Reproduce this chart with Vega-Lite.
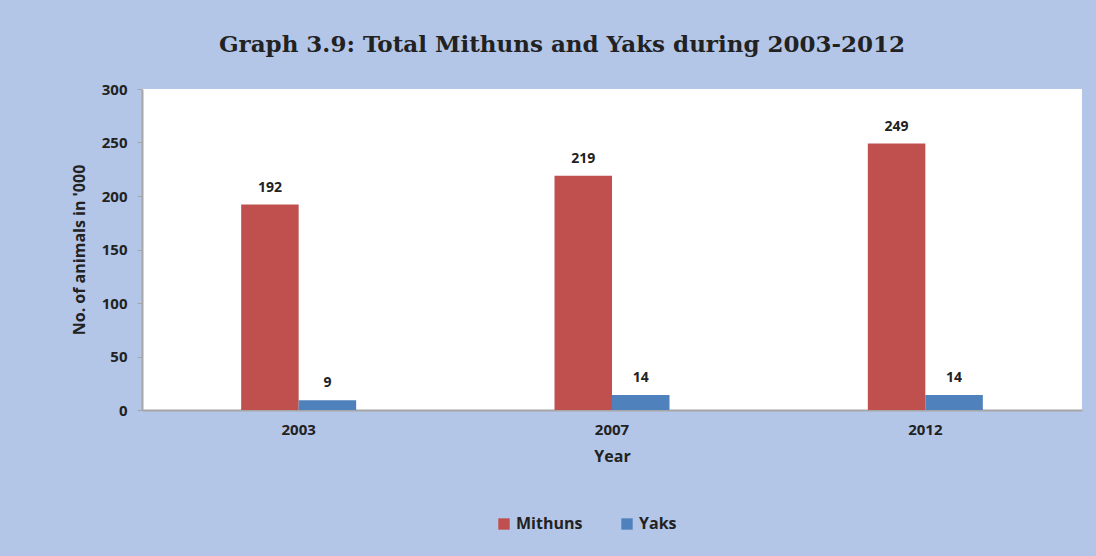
{
  "$schema": "https://vega.github.io/schema/vega-lite/v6.json",
  "autosize": "none",
  "width": 940,
  "height": 321,
  "padding": {"left": 142, "top": 89, "right": 14, "bottom": 146},
  "background": "#b4c6e8",
  "config": {
    "view": {"fill": "white", "stroke": null},
    "font": "Open Sans"
  },
  "title": {
    "text": "Graph 3.9: Total Mithuns and Yaks during 2003-2012",
    "font": "DejaVu Serif",
    "fontSize": 23,
    "fontWeight": "bold",
    "color": "#222222",
    "anchor": "middle",
    "dx": -50,
    "offset": 25
  },
  "data": {
    "values": [
      {"year": "2003", "animal": "Mithuns", "value": 192},
      {"year": "2003", "animal": "Yaks", "value": 9},
      {"year": "2007", "animal": "Mithuns", "value": 219},
      {"year": "2007", "animal": "Yaks", "value": 14},
      {"year": "2012", "animal": "Mithuns", "value": 249},
      {"year": "2012", "animal": "Yaks", "value": 14}
    ]
  },
  "encoding": {
    "x": {
      "field": "year",
      "type": "nominal",
      "scale": {"paddingInner": 0.633, "paddingOuter": 0.3165},
      "axis": {
        "title": "Year",
        "titleFontSize": 16,
        "titleFontWeight": "bold",
        "titleColor": "#222222",
        "titlePadding": 11,
        "labelAngle": 0,
        "labelFontSize": 15,
        "labelFontWeight": "bold",
        "labelColor": "#222222",
        "labelPadding": 12,
        "ticks": false,
        "domainColor": "#a6a6a6",
        "domainWidth": 2
      }
    },
    "xOffset": {"field": "animal", "type": "nominal", "scale": {"paddingInner": 0}},
    "y": {
      "field": "value",
      "type": "quantitative",
      "scale": {"domain": [0, 300]},
      "axis": {
        "title": "No. of animals in '000",
        "titleFontSize": 16,
        "titleFontWeight": "bold",
        "titleColor": "#222222",
        "titlePadding": 14,
        "values": [0, 50, 100, 150, 200, 250, 300],
        "labelFontSize": 15,
        "labelFontWeight": "bold",
        "labelColor": "#222222",
        "labelPadding": 10,
        "tickColor": "#a6a6a6",
        "tickSize": 5,
        "domainColor": "#a6a6a6",
        "domainWidth": 2,
        "grid": false
      }
    }
  },
  "layer": [
    {
      "mark": {"type": "bar"},
      "encoding": {
        "color": {
          "field": "animal",
          "type": "nominal",
          "scale": {"domain": ["Mithuns", "Yaks"], "range": ["#c0504d", "#4f81bd"]},
          "legend": {
            "title": null,
            "orient": "none",
            "direction": "horizontal",
            "legendX": 354,
            "legendY": 427,
            "symbolType": "square",
            "symbolSize": 130,
            "symbolStrokeWidth": 0,
            "labelFontSize": 16,
            "labelFontWeight": "bold",
            "labelColor": "#222222",
            "columnPadding": 36,
            "labelOffset": 4
          }
        }
      }
    },
    {
      "mark": {"type": "text", "baseline": "bottom", "dy": -10, "fontSize": 14, "fontWeight": "bold", "color": "#222222"},
      "encoding": {"text": {"field": "value", "type": "quantitative"}}
    }
  ]
}
